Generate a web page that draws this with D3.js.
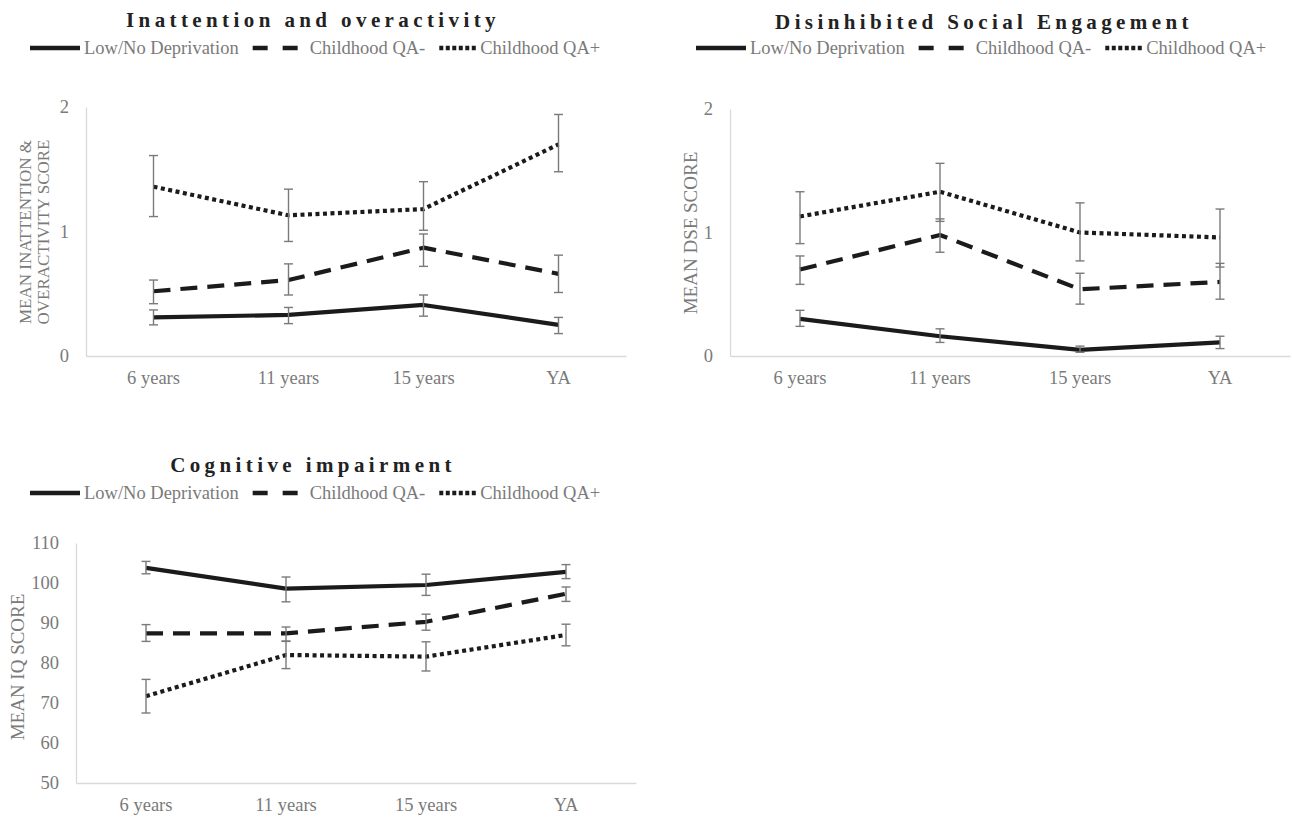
<!DOCTYPE html>
<html>
<head>
<meta charset="utf-8">
<script src="https://cdn.jsdelivr.net/npm/d3@7"></script>
<style>
  html, body { margin: 0; padding: 0; background: #fff; }
  svg { display: block; }
  text { font-family: "Liberation Serif", "Times New Roman", serif; }
</style>
</head>
<body>
<svg id="chart" width="1292" height="817"></svg>
<script>
// Measurement occasions shared by all three panels
const occasions = ["6 years", "11 years", "15 years", "YA"];
const groups = ["Low/No Deprivation", "Childhood QA-", "Childhood QA+"];

// Inattention and overactivity: means with upper / lower error-bar ends
const inattMean  = [[0.31, 0.33, 0.41, 0.25], [0.52, 0.61, 0.87, 0.66], [1.36, 1.13, 1.18, 1.70]];
const inattUpper = [[0.37, 0.39, 0.49, 0.31], [0.61, 0.74, 0.98, 0.81], [1.61, 1.34, 1.40, 1.94]];
const inattLower = [[0.25, 0.26, 0.32, 0.18], [0.42, 0.49, 0.72, 0.51], [1.12, 0.92, 1.01, 1.48]];

// Disinhibited social engagement
const dseMean  = [[0.30, 0.16, 0.05, 0.11], [0.70, 0.98, 0.54, 0.60], [1.13, 1.33, 1.00, 0.96]];
const dseUpper = [[0.37, 0.22, 0.08, 0.16], [0.81, 1.11, 0.67, 0.75], [1.33, 1.56, 1.24, 1.19]];
const dseLower = [[0.24, 0.11, 0.03, 0.06], [0.58, 0.84, 0.42, 0.46], [0.91, 1.09, 0.77, 0.72]];

// Cognitive impairment (IQ)
const iqMean  = [[103.8, 98.6, 99.5, 102.8], [87.4, 87.4, 90.3, 97.3], [71.7, 82.0, 81.6, 87.0]];
const iqUpper = [[105.4, 101.5, 102.2, 104.6], [89.6, 89.0, 92.2, 99.0], [75.9, 85.5, 85.3, 89.7]];
const iqLower = [[102.3, 95.3, 96.9, 101.1], [85.4, 85.4, 88.2, 95.4], [67.5, 78.6, 78.0, 84.3]];

// Axis tick values
const scoreTicks = [0, 1, 2];
const iqTicks = [50, 60, 70, 80, 90, 100, 110];

// Line dash styles per group
const dashStyles = [null, "17,10", "4,3.5"];
const legendDash = [null, "15,15", "4,2.5"];
const legendSampleW = [50, 50, 38];
const legendTextGap = [4, 7, 3];

const svg = d3.select("#chart");
const ink = "#1b1b1b";
const grey = "#7a7a7a";

const panels = [
  {
    title: "Inattention and overactivity", titleX: 313, titleY: 27, legendY: 48, legendX: 30,
    left: 86, right: 626, top: 107, bottom: 356, domain: [0, 2], ticks: scoreTicks,
    yTitle: ["MEAN INATTENTION &", "OVERACTIVITY SCORE"], yTitleSize: 17, yTitleX: 31, yTitleY: 232,
    mean: inattMean, upper: inattUpper, lower: inattLower
  },
  {
    title: "Disinhibited Social Engagement", titleX: 984, titleY: 29, legendY: 48, legendX: 696,
    left: 730, right: 1290, top: 109, bottom: 356, domain: [0, 2], ticks: scoreTicks,
    yTitle: ["MEAN DSE SCORE"], yTitleSize: 19, yTitleX: 697, yTitleY: 233,
    mean: dseMean, upper: dseUpper, lower: dseLower
  },
  {
    title: "Cognitive impairment", titleX: 313, titleY: 472, legendY: 493, legendX: 30,
    left: 76, right: 636, top: 543, bottom: 783, domain: [50, 110], ticks: iqTicks,
    yTitle: ["MEAN IQ SCORE"], yTitleSize: 19, yTitleX: 24, yTitleY: 667,
    mean: iqMean, upper: iqUpper, lower: iqLower
  }
];

panels.forEach(p => {
  const g = svg.append("g");

  const x = d3.scaleBand().domain(occasions).range([p.left, p.right]);
  const y = d3.scaleLinear().domain(p.domain).range([p.bottom, p.top]);

  // Title
  g.append("text")
    .attr("x", p.titleX).attr("y", p.titleY)
    .attr("text-anchor", "middle")
    .attr("font-size", 21).attr("font-weight", "bold")
    .attr("letter-spacing", 4.4)
    .attr("fill", "#222")
    .text(p.title);

  // Legend
  let lx = p.legendX;
  groups.forEach((name, i) => {
    const sampleW = legendSampleW[i];
    g.append("line")
      .attr("x1", lx).attr("x2", lx + sampleW)
      .attr("y1", p.legendY).attr("y2", p.legendY)
      .attr("stroke", ink).attr("stroke-width", 4.5)
      .attr("stroke-dasharray", legendDash[i]);
    const t = g.append("text")
      .attr("x", lx + sampleW + legendTextGap[i]).attr("y", p.legendY + 6)
      .attr("font-size", 18.5).attr("fill", grey)
      .text(name);
    lx += sampleW + legendTextGap[i] + t.node().getComputedTextLength() + 14;
  });

  // Axes (lines only, no ticks)
  const yAxis = d3.axisLeft(y).tickValues(p.ticks).tickSize(0).tickPadding(17).tickFormat(d3.format("d"));
  const xAxis = d3.axisBottom(x).tickSize(0).tickPadding(15);

  const ya = g.append("g").attr("transform", `translate(${p.left},0)`).call(yAxis);
  const xa = g.append("g").attr("transform", `translate(0,${p.bottom})`).call(xAxis);
  [ya, xa].forEach(a => {
    a.select(".domain").attr("stroke", "#d9d9d9").attr("stroke-width", 1.3);
    a.selectAll("text")
      .attr("font-family", "'Liberation Serif', 'Times New Roman', serif")
      .attr("font-size", 18.5).attr("fill", grey);
  });

  // Y-axis title
  const yt = g.append("text")
    .attr("transform", `translate(${p.yTitleX},${p.yTitleY}) rotate(-90)`)
    .attr("text-anchor", "middle")
    .attr("font-size", p.yTitleSize).attr("fill", grey);
  p.yTitle.forEach((line, i) => {
    yt.append("tspan").attr("x", 0).attr("dy", i === 0 ? 0 : 18).text(line);
  });

  const cx = d => x(d) + x.bandwidth() / 2;

  // Series lines
  p.mean.forEach((vals, i) => {
    const line = d3.line().x((v, j) => cx(occasions[j])).y(v => y(v));
    g.append("path")
      .datum(vals)
      .attr("d", line)
      .attr("fill", "none")
      .attr("stroke", ink).attr("stroke-width", 4.2)
      .attr("stroke-linejoin", "round")
      .attr("stroke-dasharray", dashStyles[i]);
  });

  // Error bars
  p.mean.forEach((vals, i) => {
    vals.forEach((v, j) => {
      const xc = cx(occasions[j]);
      const hi = y(p.upper[i][j]), lo = y(p.lower[i][j]);
      const eg = g.append("g").attr("stroke", "#7a7a7a").attr("stroke-width", 1.4);
      eg.append("line").attr("x1", xc).attr("x2", xc).attr("y1", hi).attr("y2", lo);
      eg.append("line").attr("x1", xc - 4.5).attr("x2", xc + 4.5).attr("y1", hi).attr("y2", hi);
      eg.append("line").attr("x1", xc - 4.5).attr("x2", xc + 4.5).attr("y1", lo).attr("y2", lo);
    });
  });
});
</script>
</body>
</html>
